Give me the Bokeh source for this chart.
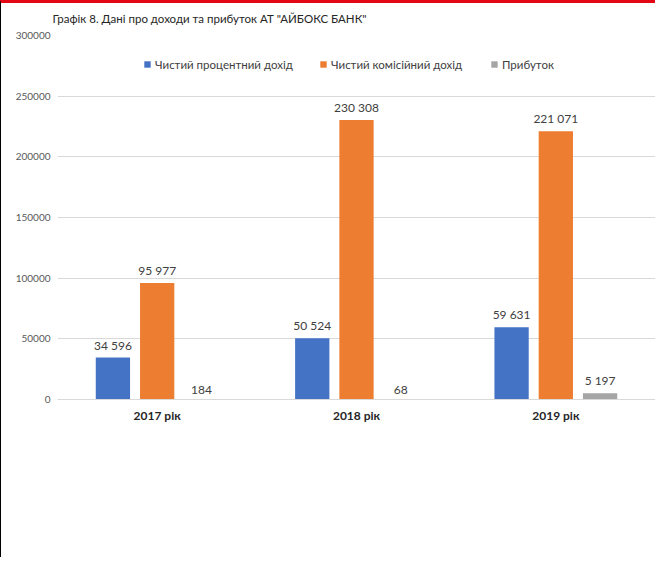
from bokeh.plotting import figure
from bokeh.models import ColumnDataSource, Range1d, FactorRange, LabelSet, Legend, LegendItem, NumeralTickFormatter
from bokeh.transform import dodge
from bokeh.core.properties import value
from bokeh.embed import file_html
from bokeh.resources import INLINE

years = ["2017 рік", "2018 рік", "2019 рік"]
series_names = ["Чистий процентний дохід", "Чистий комісійний дохід", "Прибуток"]
interest_income = [34596, 50524, 59631]
commission_income = [95977, 230308, 221071]
profit = [184, 68, 5197]
colors = ["#4472C4", "#ED7D31", "#A5A5A5"]
offsets = [-0.222, 0.0, 0.222]
FONT = "Lato"

def fmt(v):
    return "{:,}".format(v).replace(",", " ")

p = figure(width=655, height=557, x_range=FactorRange(*years), y_range=Range1d(0, 300000),
           output_backend="svg", toolbar_location=None,
           min_border_left=56, min_border_right=1, min_border_top=32, min_border_bottom=161)
p.styles = {"border-top": "3px solid #E30613", "border-left": "1px solid #000000"}
p.outline_line_color = None
p.background_fill_color = "white"
p.border_fill_color = "white"

p.title.text = 'Графік 8. Дані про доходи та прибуток АТ "АЙБОКС БАНК"'
p.title.text_font = FONT
p.title.text_font_size = "11.5px"
p.title.text_font_style = "normal"
p.title.text_color = "#262626"
p.title.align = "left"
p.title.offset = -5
p.title.vertical_align = "top"
p.title.standoff = 17

series = [interest_income, commission_income, profit]
renderers = []
for name, vals, col, off in zip(series_names, series, colors, offsets):
    src = ColumnDataSource(dict(year=years, v=vals, lab=[fmt(v) for v in vals]))
    r = p.vbar(x=dodge("year", off, range=p.x_range), top="v", width=0.172, source=src,
               fill_color=col, line_color=None)
    renderers.append(r)
    ls = LabelSet(x=dodge("year", off, range=p.x_range), y="v", text="lab", source=src,
                  text_align="center", text_baseline="bottom", y_offset=5,
                  text_font_size="12px", text_color="#404040", text_font=value(FONT))
    p.add_layout(ls)

legend_x = [86, 262, 433]
for name, r, lx in zip(series_names, renderers, legend_x):
    lg = Legend(items=[LegendItem(label=name, renderers=[r])], location=(lx, 328),
                orientation="horizontal", padding=0, margin=0, border_line_color=None,
                background_fill_alpha=0, glyph_width=8, glyph_height=8, label_height=14,
                label_standoff=4, label_text_font=FONT, label_text_font_size="11.5px",
                label_text_color="#404040")
    p.add_layout(lg)

p.xgrid.grid_line_color = None
p.ygrid.grid_line_color = "#D9D9D9"
p.ygrid.grid_line_width = 1
p.yaxis.ticker = [0, 50000, 100000, 150000, 200000, 250000, 300000]
p.yaxis.formatter = NumeralTickFormatter(format="0")
p.yaxis.axis_line_color = None
p.yaxis.major_tick_line_color = None
p.yaxis.minor_tick_line_color = None
p.yaxis.major_tick_out = 0
p.yaxis.major_label_text_font = FONT
p.yaxis.major_label_text_font_size = "10px"
p.yaxis.major_label_text_color = "#595959"
p.yaxis.major_label_standoff = 7

p.xaxis.axis_line_color = "#D9D9D9"
p.xaxis.major_tick_line_color = None
p.xaxis.minor_tick_line_color = None
p.xaxis.major_tick_out = 0
p.xaxis.major_label_text_font = FONT
p.xaxis.major_label_text_font_size = "12px"
p.xaxis.major_label_text_font_style = "bold"
p.xaxis.major_label_text_color = "#262626"
p.xaxis.major_label_standoff = 8

open("out.html", "w").write(file_html(p, INLINE))
